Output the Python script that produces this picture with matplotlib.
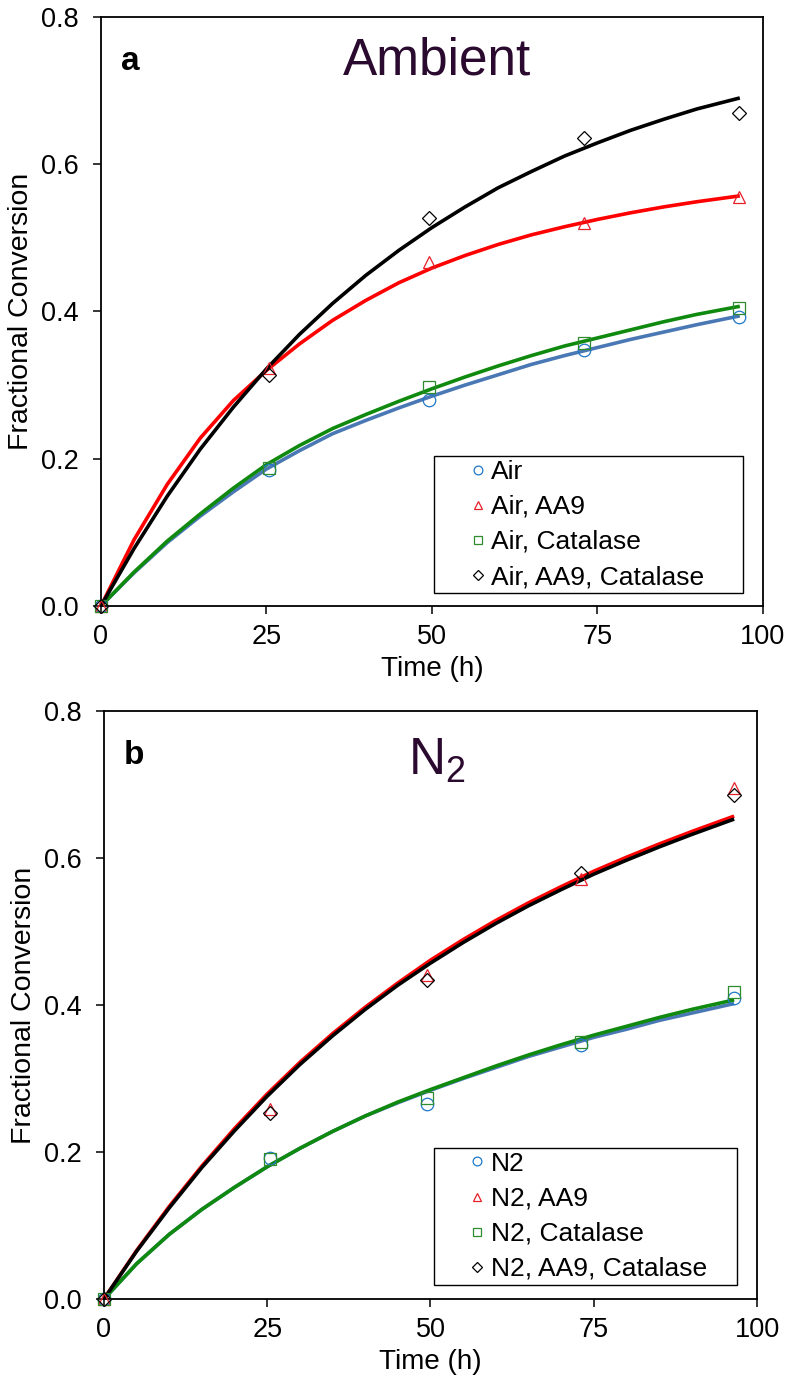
"""
Fractional conversion vs time, ambient air (a) and N2 (b) atmospheres.
Markers are measured points, solid lines are the fitted curves.
"""

import matplotlib.pyplot as plt

# --- Palette ---
INK = "#000000"
TITLE_INK = "#2b0a2f"
BLUE_LINE, BLUE_MARK = "#4a78b4", "#1f78c8"
RED_LINE, RED_MARK = "#ff0000", "#e8202a"
GREEN_LINE, GREEN_MARK = "#0f8a0f", "#2e8b2e"
BLACK_LINE, BLACK_MARK = "#000000", "#000000"

plt.rcParams.update(
    {
        "font.family": ["Liberation Sans", "DejaVu Sans"],
        "mathtext.fontset": "custom",
        "mathtext.rm": "Liberation Sans",
        "mathtext.it": "Liberation Sans",
        "axes.linewidth": 1.3,
        "axes.edgecolor": INK,
        "xtick.color": INK,
        "ytick.color": INK,
    }
)

# --- Measured points (same sampling times for every series) ---
TIME_H = [0, 25.4, 49.5, 73, 96.4]

AIR = [0, 0.185, 0.280, 0.348, 0.393]
AIR_AA9 = [0, 0.323, 0.467, 0.520, 0.555]
AIR_CAT = [0, 0.188, 0.297, 0.357, 0.405]
AIR_AA9_CAT = [0, 0.314, 0.527, 0.636, 0.670]

N2 = [0, 0.192, 0.266, 0.346, 0.409]
N2_AA9 = [0, 0.259, 0.441, 0.572, 0.695]
N2_CAT = [0, 0.191, 0.273, 0.350, 0.418]
N2_AA9_CAT = [0, 0.253, 0.434, 0.580, 0.686]

# --- Fitted curves ---
CURVE_T = [0, 5, 10, 15, 20, 25, 30, 35, 40, 45, 50, 55, 60, 65, 70, 75, 80, 85, 90, 96.5]

FIT_AIR = [0, 0.045, 0.086, 0.122, 0.155, 0.186, 0.211, 0.234, 0.252, 0.269, 0.285,
           0.300, 0.314, 0.328, 0.340, 0.351, 0.362, 0.372, 0.382, 0.394]
FIT_AIR_AA9 = [0, 0.090, 0.165, 0.228, 0.279, 0.320, 0.356, 0.388, 0.415, 0.439, 0.459,
               0.476, 0.491, 0.504, 0.515, 0.525, 0.534, 0.542, 0.549, 0.557]
FIT_AIR_CAT = [0, 0.046, 0.088, 0.125, 0.160, 0.192, 0.218, 0.241, 0.260, 0.278, 0.295,
               0.311, 0.326, 0.340, 0.353, 0.364, 0.375, 0.386, 0.396, 0.407]
FIT_AIR_AA9_CAT = [0, 0.078, 0.149, 0.213, 0.270, 0.322, 0.369, 0.411, 0.449, 0.483, 0.514,
                   0.542, 0.568, 0.590, 0.611, 0.629, 0.646, 0.661, 0.675, 0.690]

FIT_N2 = [0, 0.048, 0.088, 0.122, 0.152, 0.180, 0.205, 0.228, 0.249, 0.267, 0.284,
          0.300, 0.315, 0.330, 0.343, 0.356, 0.367, 0.379, 0.389, 0.402]
FIT_N2_AA9 = [0, 0.066, 0.126, 0.181, 0.232, 0.279, 0.322, 0.361, 0.397, 0.430, 0.461,
              0.489, 0.515, 0.539, 0.561, 0.582, 0.601, 0.619, 0.636, 0.657]
FIT_N2_CAT = [0, 0.048, 0.088, 0.122, 0.152, 0.180, 0.205, 0.228, 0.249, 0.268, 0.285,
              0.301, 0.317, 0.332, 0.346, 0.359, 0.371, 0.383, 0.394, 0.407]
FIT_N2_AA9_CAT = [0, 0.065, 0.124, 0.179, 0.229, 0.276, 0.319, 0.358, 0.394, 0.427, 0.457,
                  0.485, 0.511, 0.535, 0.557, 0.578, 0.597, 0.615, 0.632, 0.653]

X_TICKS = [0, 25, 50, 75, 100]
Y_TICKS = [0.0, 0.2, 0.4, 0.6, 0.8]

# (label suffix, marker, marker colour, line colour)
STYLES = [
    ("", "o", BLUE_MARK, BLUE_LINE),
    (", AA9", "^", RED_MARK, RED_LINE),
    (", Catalase", "s", GREEN_MARK, GREEN_LINE),
    (", AA9, Catalase", "D", BLACK_MARK, BLACK_LINE),
]


def draw_panel(ax, prefix, points, fits, letter, title, title_xy, legend_box):
    for (suffix, marker, mcol, lcol), pts, fit in zip(STYLES, points, fits):
        ax.plot(CURVE_T, fit, color=lcol, linewidth=2.6, zorder=3, solid_capstyle="butt")
        ms = 7.5 if marker == "D" else 9
        ax.plot(
            TIME_H, pts, linestyle="none", marker=marker, markersize=ms,
            markerfacecolor="none", markeredgecolor=mcol, markeredgewidth=0.9,
            label=prefix + suffix, zorder=4, clip_on=False,
        )

    ax.set_xlim(0, 100)
    ax.set_ylim(0, 0.8)
    ax.set_xticks(X_TICKS)
    ax.set_yticks(Y_TICKS)
    ax.set_yticklabels([f"{v:.1f}" for v in Y_TICKS])
    ax.tick_params(direction="out", length=6, width=1.1, labelsize=19.5)
    ax.tick_params(axis="y", pad=10)
    ax.tick_params(axis="x", pad=7)
    ax.set_xlabel("Time (h)", fontsize=20, labelpad=4)
    ax.set_ylabel("Fractional Conversion", fontsize=20.5, labelpad=5)

    ax.text(0.03, 0.925, letter, transform=ax.transAxes, fontsize=24,
            fontweight="bold", ha="left", va="center")
    ax.text(title_xy[0], title_xy[1], title, transform=ax.transAxes, fontsize=37,
            color=TITLE_INK, ha="center", va="center")

    leg = ax.legend(
        loc="lower left", bbox_to_anchor=legend_box, mode="expand", borderaxespad=0,
        fontsize=19, frameon=True, fancybox=False, edgecolor=INK, framealpha=1,
        handlelength=3.0, handletextpad=-0.98, borderpad=0.15, labelspacing=0.42,
        markerscale=0.7, numpoints=1,
    )
    leg.get_frame().set_linewidth(1.0)


fig = plt.figure(figsize=(7.87, 13.79), dpi=100)
ax_a = fig.add_axes([0.1283, 0.5606, 0.8412, 0.4271])
ax_b = fig.add_axes([0.1321, 0.0580, 0.8298, 0.4264])

draw_panel(
    ax_a, "Air",
    [AIR, AIR_AA9, AIR_CAT, AIR_AA9_CAT],
    [FIT_AIR, FIT_AIR_AA9, FIT_AIR_CAT, FIT_AIR_AA9_CAT],
    "a", "Ambient", (0.508, 0.925), (0.503, 0.022, 0.467, 0.239),
)
draw_panel(
    ax_b, "N2",
    [N2, N2_AA9, N2_CAT, N2_AA9_CAT],
    [FIT_N2, FIT_N2_AA9, FIT_N2_CAT, FIT_N2_AA9_CAT],
    "b", r"N$_\mathregular{2}$", (0.509, 0.915), (0.505, 0.024, 0.464, 0.240),
)

fig.savefig("out.png", dpi=100)
